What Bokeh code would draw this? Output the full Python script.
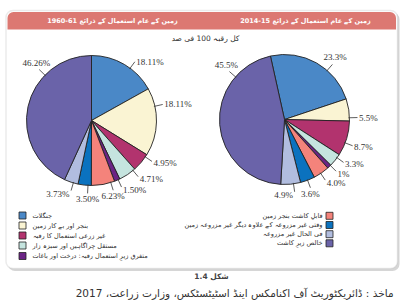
import numpy as np
from bokeh.plotting import figure
from bokeh.models import Range1d, BoxAnnotation, ColumnDataSource
from bokeh.core.properties import value
from bokeh.embed import file_html
from bokeh.resources import INLINE

W, H = 417, 304
RLE, PDF = "\u202b", "\u202c"   # right-to-left embedding for Urdu lines
LRM = "\u200e"                  # keeps year ranges such as 1960-61 left-to-right

# ---- data -------------------------------------------------------------
categories = [
    "جنگلات",
    "بنجر اور بے کار زمین",
    "غیر زرعی استعمال کا رقبہ",
    "مستقل چراگاہیں اور سبزہ زار",
    "متفرق زیرِ استعمال رقبہ: درخت اور باغات",
    "قابلِ کاشت بنجر زمین",
    "وقتی غیر مزروعہ کے علاوہ دیگر غیر مزروعہ زمین",
    "فی الحال غیر مزروعہ",
    "خالص زیرِ کاشت",
]
share_1960 = [18.11, 18.11, 4.95, 4.71, 1.50, 6.23, 3.50, 3.73, 46.26]
share_2014 = [23.3, 5.5, 8.7, 3.3, 1.0, 4.0, 3.6, 4.9, 45.5]
labels_1960 = ["18.11%", "18.11%", "4.95%", "4.71%", "1.50%", "6.23%", "3.50%", "3.73%", "46.26%"]
labels_2014 = ["23.3%", "5.5%", "8.7%", "3.3%", "1%", "4.0%", "3.6%", "4.9%", "45.5%"]

title_text = "زمین کے عام استعمال کے ذرائع"
years = ["1960-61", "2014-15"]
subtitle = "کل رقبہ 100 فی صد"
figure_no = "شکل 1.4"
source_note = "ماخذ : ڈائریکٹوریٹ آف اکنامکس اینڈ اسٹیٹسٹکس، وزارت زراعت، 2017"

# ---- style ------------------------------------------------------------
colors = ["#4A88C7", "#FAF4D3", "#B2336E", "#C5E4DF", "#6B2485",
          "#F4837B", "#0B72BF", "#B1BDDF", "#6A63A9"]
URDU = "DejaVu Sans"
NUM = "Liberation Serif"
R = 65


def Y(py):
    """top-down pixel row -> data y"""
    return H - py


def rtl(s):
    return RLE + s + PDF


p = figure(width=W, height=H, output_backend="svg", toolbar_location=None,
           x_range=Range1d(0, W), y_range=Range1d(0, H),
           min_border=0, x_axis_location=None, y_axis_location=None)
p.grid.visible = False
p.outline_line_color = None
p.background_fill_color = "white"
p.border_fill_color = "white"

# framed panel with soft shadow and red header strip
p.add_layout(BoxAnnotation(left=7.5, right=399, top=Y(12), bottom=Y(270.5),
                           fill_color="#D6D6D6", fill_alpha=1, line_color=None,
                           border_radius=7, level="underlay"))
p.add_layout(BoxAnnotation(left=5.5, right=397, top=Y(10), bottom=Y(268),
                           fill_color="white", fill_alpha=1, line_color="#BDBDBD",
                           line_width=1.5, border_radius=7, level="underlay"))
p.add_layout(BoxAnnotation(left=7, right=395.5, top=Y(11.5), bottom=Y(29),
                           fill_color="#DC7872", fill_alpha=1, line_color=None,
                           border_radius=(6, 6, 0, 0), level="underlay"))

p.text(x=[112, 305], y=[Y(20.5)] * 2,
       text=[rtl(title_text + " " + LRM + yr + LRM) for yr in years],
       text_font=value(URDU), text_font_size="6.5px", text_font_style="bold",
       text_color="white", text_align="center", text_baseline="middle")
p.text(x=[205], y=[Y(38)], text=[rtl(subtitle)], text_font=value(URDU),
       text_font_size="7.5px", text_color="#333333", text_align="center",
       text_baseline="middle")


def pie(shares, labels, cx, cy, start_deg, nudges, modes):
    s = np.asarray(shares, float)
    frac = s / s.sum()
    cum = np.concatenate([[0.0], np.cumsum(frac)]) * 360.0 + start_deg  # clockwise from 12 o'clock
    a0, a1 = cum[:-1], cum[1:]
    src = ColumnDataSource(dict(start=np.radians(90 - a1), end=np.radians(90 - a0), color=colors))
    p.wedge(x=cx, y=cy, radius=R, start_angle="start", end_angle="end",
            fill_color="color", line_color="#222222", line_width=0.9, source=src)

    th = np.radians((a0 + a1) / 2 + np.asarray(nudges, float))
    sx, cy_ = np.sin(th), np.cos(th)
    x0, y0 = cx + (R - 1) * sx, cy + (R - 1) * cy_
    x1, y1 = cx + (R + 8) * sx, cy + (R + 8) * cy_
    p.segment(x0=x0, y0=y0, x1=x1, y1=y1, line_color="#333333", line_width=0.8)

    tx, ty, al = [], [], []
    for i, m in enumerate(modes):
        drop = max(0.0, -cy_[i]) * 3.5
        if m == "r":
            tx.append(x1[i] + 1.5); ty.append(y1[i] - drop); al.append("left")
        elif m == "l":
            tx.append(x1[i] - 1.5); ty.append(y1[i] - drop); al.append("right")
        elif m == "b":
            tx.append(x1[i]); ty.append(y1[i] - 6); al.append("center")
        else:  # above
            tx.append(x1[i] + 4 * sx[i]); ty.append(y1[i] + 7); al.append("center")
    p.text(x=tx, y=ty, text=labels, text_align=al, text_baseline="middle",
           text_font=value(NUM), text_font_size="9px", text_color="#333333")


pie(share_1960, labels_1960, 91, Y(120), 0,
    [6, -14, -6, -6, -1, -7, -3, -2, 32],
    ["r", "r", "r", "r", "r", "b", "b", "l", "a"])
pie(share_2014, labels_2014, 284, Y(119), -12.5,
    [11.5, 7, 4, -2.7, -1.4, 0.6, 0, -2.5, 45.6],
    ["a", "r", "r", "r", "r", "r", "b", "l", "a"])

# legend: first five categories on the left, remaining four on the right
left_rows = [215, 225, 235, 245, 255.5]
right_rows = [215.3, 224.5, 233.7, 242.8]
p.rect(x=[22] * 5, y=[Y(v) for v in left_rows], width=7, height=7,
       fill_color=colors[:5], line_color="#222222", line_width=0.8)
p.text(x=[32] * 5, y=[Y(v) for v in left_rows], text=[rtl(c) for c in categories[:5]],
       text_align="left", text_baseline="middle", text_font=value(URDU),
       text_font_size="6.5px", text_color="#333333")
p.rect(x=[329] * 4, y=[Y(v) for v in right_rows], width=7, height=7,
       fill_color=colors[5:], line_color="#222222", line_width=0.8)
p.text(x=[322] * 4, y=[Y(v) for v in right_rows], text=[rtl(c) for c in categories[5:]],
       text_align="right", text_baseline="middle", text_font=value(URDU),
       text_font_size="6.5px", text_color="#333333")

# figure number and source line under the panel
p.text(x=[211], y=[Y(275.5)], text=[rtl(figure_no)], text_align="center",
       text_baseline="middle", text_font=value(URDU), text_font_size="7.5px",
       text_font_style="bold", text_color="#444444")
p.text(x=[393], y=[Y(292)], text=[rtl(source_note)], text_align="right",
       text_baseline="middle", text_font=value(URDU), text_font_size="10.5px",
       text_color="#333333")

open("out.html", "w").write(file_html(p, INLINE))
